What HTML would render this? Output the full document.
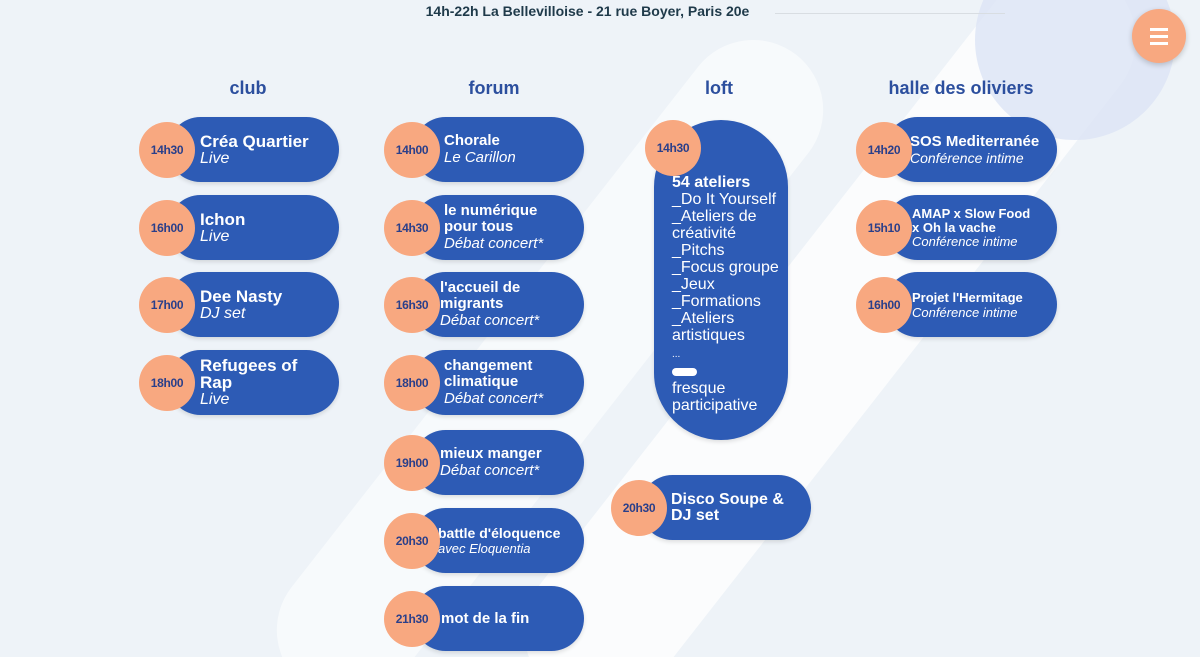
<!DOCTYPE html>
<html><head><meta charset="utf-8"><style>
*{margin:0;padding:0;box-sizing:border-box}
body{width:1200px;height:657px;overflow:hidden;position:relative;font-family:"Liberation Sans",sans-serif;background:#eef3f8}
.bg{position:absolute;inset:0;overflow:hidden}
.stripe{position:absolute;background:rgba(255,255,255,0.75);transform:rotate(-52deg);border-radius:120px}
.pill{position:absolute;background:#2d5bb5;border-radius:34px;display:flex;align-items:center;color:#fff;box-shadow:0 2px 4px rgba(0,0,0,0.12)}
.c{position:absolute;width:56px;height:56px;border-radius:50%;background:#f8a880;color:#2a3f8a;font-weight:bold;font-size:12px;display:flex;align-items:center;justify-content:center;letter-spacing:-0.3px}
.t{line-height:17px}
.t b{display:block;font-size:17px}
.t i{display:block;font-size:16px}
.f b{font-size:15px;line-height:16px}
.f i{font-size:15px}
h2{position:absolute;top:78px;font-size:18px;color:#2c4f9e;transform:translateX(-50%)}
</style></head><body>
<div class="bg">
<div class="stripe" style="left:380px;top:260px;width:900px;height:150px"></div>
<div class="stripe" style="left:150px;top:300px;width:800px;height:140px;background:rgba(255,255,255,0.55)"></div>
<div style="position:absolute;left:975px;top:-60px;width:200px;height:200px;border-radius:50%;background:rgba(220,228,245,0.8)"></div>
</div>
<div style="position:absolute;top:3px;left:0;width:1200px;text-align:center;font-size:14px;font-weight:bold;color:#1f3a4a;padding-right:25px">14h-22h La Bellevilloise - 21 rue Boyer, Paris 20e</div>
<div style="position:absolute;left:775px;top:13px;width:230px;height:1px;background:#d8dde2"></div>
<div style="position:absolute;left:1132px;top:9px;width:54px;height:54px;border-radius:50%;background:#f8a880;box-shadow:0 2px 6px rgba(0,0,0,0.2)">
<div style="position:absolute;left:18px;top:19px;width:18px;height:3px;background:#fff;box-shadow:0 7px 0 #fff,0 14px 0 #fff"></div></div>

<h2 style="left:248px">club</h2>
<h2 style="left:494px">forum</h2>
<h2 style="left:719px">loft</h2>
<h2 style="left:961px">halle des oliviers</h2>

<!-- club -->
<div class="pill" style="left:168px;top:117px;width:171px;height:65px;padding-left:32px"><div class="t"><b>Créa Quartier</b><i>Live</i></div></div><div class="c" style="left:139px;top:122px">14h30</div>
<div class="pill" style="left:168px;top:195px;width:171px;height:65px;padding-left:32px"><div class="t"><b>Ichon</b><i>Live</i></div></div><div class="c" style="left:139px;top:200px">16h00</div>
<div class="pill" style="left:168px;top:272px;width:171px;height:65px;padding-left:32px"><div class="t"><b>Dee Nasty</b><i>DJ set</i></div></div><div class="c" style="left:139px;top:277px">17h00</div>
<div class="pill" style="left:168px;top:350px;width:171px;height:65px;padding-left:32px"><div class="t"><b>Refugees of<br>Rap</b><i>Live</i></div></div><div class="c" style="left:139px;top:355px">18h00</div>

<!-- forum -->
<div class="pill" style="left:413px;top:117px;width:171px;height:65px;padding-left:31px"><div class="t f"><b>Chorale</b><i>Le Carillon</i></div></div><div class="c" style="left:384px;top:122px">14h00</div>
<div class="pill" style="left:413px;top:195px;width:171px;height:65px;padding-left:31px"><div class="t f"><b>le numérique<br>pour tous</b><i>Débat concert*</i></div></div><div class="c" style="left:384px;top:200px">14h30</div>
<div class="pill" style="left:413px;top:272px;width:171px;height:65px;padding-left:27px"><div class="t f"><b>l'accueil de<br>migrants</b><i>Débat concert*</i></div></div><div class="c" style="left:384px;top:277px">16h30</div>
<div class="pill" style="left:413px;top:350px;width:171px;height:65px;padding-left:31px"><div class="t f"><b>changement<br>climatique</b><i>Débat concert*</i></div></div><div class="c" style="left:384px;top:355px">18h00</div>
<div class="pill" style="left:413px;top:430px;width:171px;height:65px;padding-left:27px"><div class="t f"><b>mieux manger</b><i>Débat concert*</i></div></div><div class="c" style="left:384px;top:435px">19h00</div>
<div class="pill" style="left:413px;top:508px;width:171px;height:65px;padding-left:25px"><div class="t" style="line-height:15px"><b style="font-size:14px">battle d'éloquence</b><i style="font-size:13px">avec Eloquentia</i></div></div><div class="c" style="left:384px;top:513px">20h30</div>
<div class="pill" style="left:413px;top:586px;width:171px;height:65px;padding-left:28px"><div class="t f"><b>mot de la fin</b></div></div><div class="c" style="left:384px;top:591px">21h30</div>

<!-- loft -->
<div class="pill" style="left:654px;top:120px;width:134px;height:320px;border-radius:67px;align-items:flex-start;padding:54px 0 0 18px"><div style="font-size:16px;line-height:17px"><b style="font-size:16px">54 ateliers</b><br>_Do It Yourself<br>_Ateliers de<br>créativité<br>_Pitchs<br>_Focus groupe<br>_Jeux<br>_Formations<br>_Ateliers<br>artistiques<br><span style="font-size:10px">...</span><br><span style="display:inline-block;width:25px;height:8px;background:#fff;border-radius:4px"></span><br>fresque<br>participative</div></div>
<div class="c" style="left:645px;top:120px">14h30</div>
<div class="pill" style="left:640px;top:475px;width:171px;height:65px;padding-left:31px"><div class="t"><b style="font-size:16px;line-height:16px">Disco Soupe &amp;<br>DJ set</b></div></div><div class="c" style="left:611px;top:480px">20h30</div>

<!-- halle -->
<div class="pill" style="left:885px;top:117px;width:172px;height:65px;padding-left:25px"><div class="t" style="line-height:16px"><b style="font-size:15px">SOS Mediterranée</b><i style="font-size:14px">Conférence intime</i></div></div><div class="c" style="left:856px;top:122px">14h20</div>
<div class="pill" style="left:885px;top:195px;width:172px;height:65px;padding-left:27px"><div class="t" style="line-height:14px"><b style="font-size:13px">AMAP x Slow Food<br>x Oh la vache</b><i style="font-size:13px">Conférence intime</i></div></div><div class="c" style="left:856px;top:200px">15h10</div>
<div class="pill" style="left:885px;top:272px;width:172px;height:65px;padding-left:27px"><div class="t" style="line-height:15px"><b style="font-size:13px">Projet l'Hermitage</b><i style="font-size:13px">Conférence intime</i></div></div><div class="c" style="left:856px;top:277px">16h00</div>
</body></html>
